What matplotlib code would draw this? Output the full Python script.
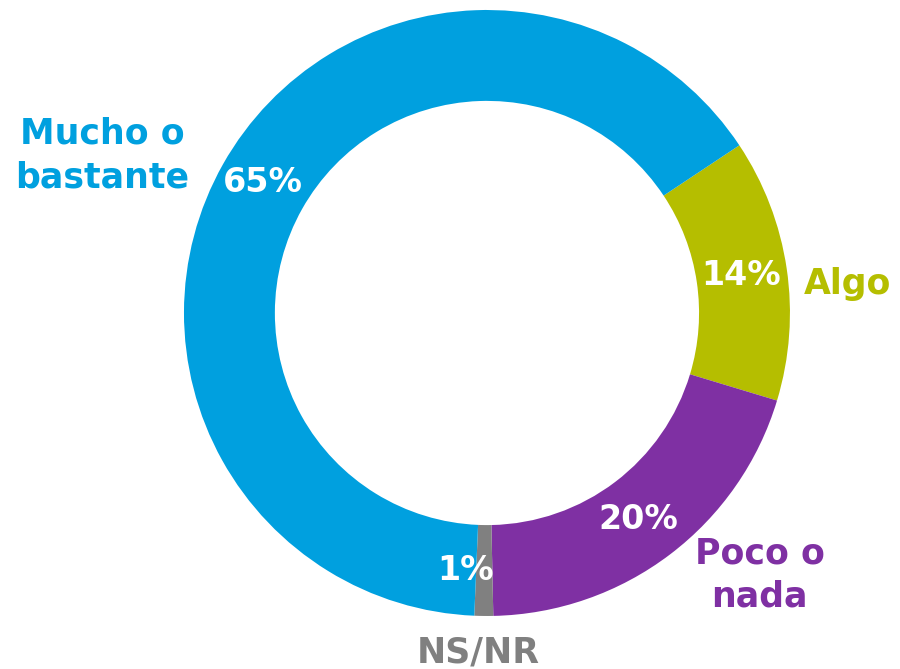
import matplotlib.pyplot as plt

labels = ["Algo", "Poco o\nnada", "NS/NR", "Mucho o\nbastante"]
values = [14, 20, 1, 65]
pct_text = ["14%", "20%", "1%", "65%"]
colors = ["#B5BE00", "#7F30A3", "#808080", "#00A0DF"]

# label positions (data units, pie radius = 1)
pct_pos = [(0.84, 0.125), (0.50, -0.68), (-0.07, -0.85), (-0.74, 0.43)]
lab_pos = [(1.19, 0.096), (0.90, -0.865), (-0.03, -1.12), (-1.27, 0.52)]

fig = plt.figure(figsize=(9, 6.69), dpi=100)
ax = fig.add_axes([0, 0, 1, 1])
ax.pie(values, colors=colors, startangle=33.6, counterclock=False,
       radius=1, wedgeprops=dict(width=0.30, linewidth=0))

for txt, (x, y) in zip(pct_text, pct_pos):
    ax.text(x, y, txt, ha="center", va="center", color="white",
            fontsize=24, fontweight="bold", family="DejaVu Sans")

for txt, (x, y), c in zip(labels, lab_pos, colors):
    ax.text(x, y, txt, ha="center", va="center", color=c,
            fontsize=25, fontweight="bold", family="DejaVu Sans",
            linespacing=1.35)

ax.set_xlim(-1.607, 1.363)
ax.set_ylim(-1.175, 1.033)
ax.axis("off")

fig.savefig("out.png", dpi=100)
